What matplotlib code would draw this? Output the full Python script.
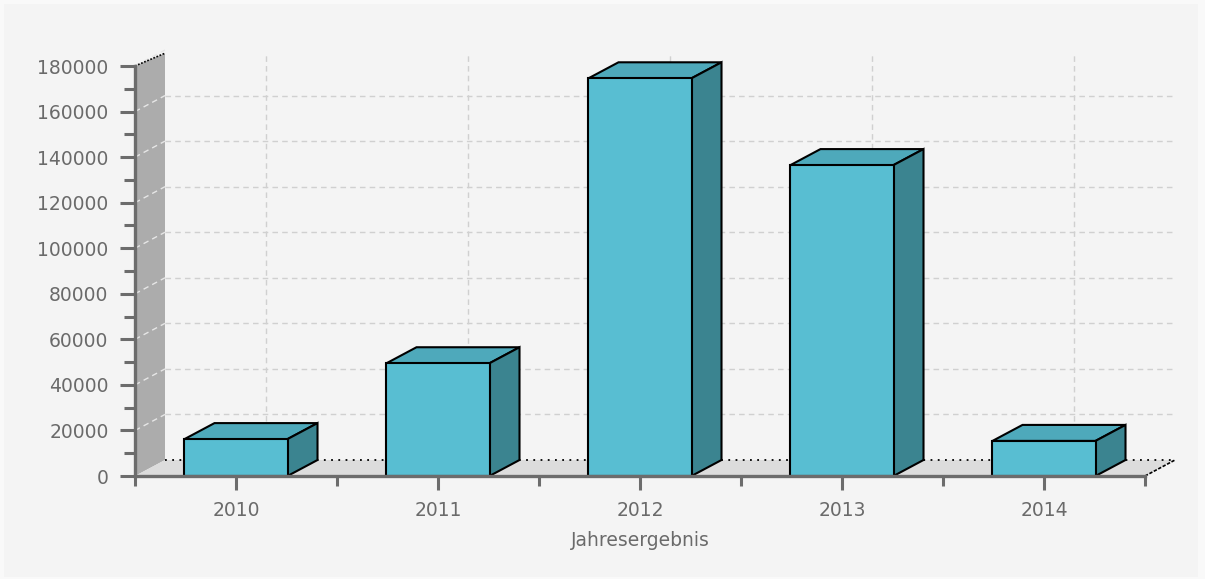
#!/usr/bin/env python3
"""Jahresergebnis 2010-2014 as pseudo 3D bars"""

import numpy as np
import matplotlib
matplotlib.use('Agg')
import matplotlib.pyplot as plt
from matplotlib.patches import Polygon, Rectangle

years = ['2010', '2011', '2012', '2013', '2014']
values = [16200, 49500, 174600, 136500, 15400]
y_ticks = list(range(0, 180001, 20000))

W, H = 1205, 579
DX, DY = 30, 16          # depth offset in pixels

FRONT = '#58bed2'
TOP = '#4ea9bb'
SIDE = '#3b8490'
WALL = '#acacac'
FLOOR = '#dcdcdc'
AXIS = '#6c6c6c'
TEXT = '#6a6a6a'

fig = plt.figure(figsize=(W / 100, H / 100), dpi=100, facecolor='#f9f9f9')
fig.patches.append(Rectangle((4 / W, 2 / H), 1194 / W, 573 / H, transform=fig.transFigure,
                             facecolor='#f4f4f4', edgecolor='none', zorder=-10))

left, right, bottom, top = 135, 1145, 476, 66
ax = fig.add_axes([left / W, (H - bottom) / H, (right - left) / W, (bottom - top) / H])
ax.set_facecolor('none')
ax.set_xlim(-0.5, len(years) - 0.5)
ax.set_ylim(0, 180000)

# depth offset in data units
ddx = DX * (len(years)) / (right - left)
ddy = DY * 180000 / (bottom - top)
x0, x1 = -0.5, len(years) - 0.5

# left wall
ax.add_patch(Polygon([(x0, 0), (x0 + ddx, ddy), (x0 + ddx, 180000 + ddy * 0.8), (x0, 180000)],
                     closed=True, facecolor=WALL, edgecolor='none', clip_on=False, zorder=1))
ax.plot([x0, x0 + ddx], [180000, 180000 + ddy * 0.8], ls=(0, (1, 1)), color='black', lw=1.2,
        clip_on=False, zorder=2)
# floor
ax.add_patch(Polygon([(x0, 0), (x1, 0), (x1 + ddx, ddy), (x0 + ddx, ddy)],
                     closed=True, facecolor=FLOOR, edgecolor='none', clip_on=False, zorder=1))
ax.plot([x0 + ddx, x1 + ddx], [ddy, ddy], ls=(0, (1, 3)), color='black', lw=1.3,
        clip_on=False, zorder=2)
ax.plot([x1, x1 + ddx], [0, ddy], ls=(0, (2, 1)), color='black', lw=1.2, clip_on=False, zorder=2)

# grid on back plane and wall
for v in y_ticks[1:-1]:
    ax.plot([x0 + ddx, x1 + ddx], [v + ddy, v + ddy], ls=(0, (4, 3)), color='#d0d0d0', lw=1,
            clip_on=False, zorder=1.5)
for v in y_ticks[1:]:
    ax.plot([x0, x0 + ddx], [v, v + ddy], ls=(0, (4, 3)), color='#e6e6e6', lw=1,
            clip_on=False, zorder=1.5)
for i in range(len(years)):
    ax.plot([i + ddx, i + ddx], [ddy, 180000 + ddy * 0.7], ls=(0, (4, 3)), color='#d0d0d0', lw=1,
            clip_on=False, zorder=1.5)

# bars
half = 0.255
for i, v in enumerate(values):
    xl, xr = i - half, i + half
    ax.add_patch(Polygon([(xl, v), (xl + ddx, v + ddy), (xr + ddx, v + ddy), (xr, v)],
                         closed=True, facecolor=TOP, edgecolor='black', lw=1.5, clip_on=False, zorder=3))
    ax.add_patch(Polygon([(xr, 0), (xr + ddx, ddy), (xr + ddx, v + ddy), (xr, v)],
                         closed=True, facecolor=SIDE, edgecolor='black', lw=1.5, clip_on=False, zorder=3))
    ax.add_patch(Rectangle((xl, 0), xr - xl, v, facecolor=FRONT, edgecolor='black', lw=1.5,
                           clip_on=False, zorder=4))

# wall front edge
ax.plot([x0 + 0.004, x0 + 0.004], [0, 180000], color='black', lw=1.2, clip_on=False, zorder=5)

for s in ['top', 'right']:
    ax.spines[s].set_visible(False)
for s in ['left', 'bottom']:
    ax.spines[s].set_color(AXIS)
    ax.spines[s].set_linewidth(2.4)
    ax.spines[s].set_zorder(6)

ax.set_yticks(y_ticks)
ax.set_yticklabels([str(v) for v in y_ticks])
ax.set_yticks(range(10000, 180000, 20000), minor=True)
ax.set_xticks(range(len(years)))
ax.set_xticklabels(years)
ax.set_xticks(np.arange(-0.5, len(years)), minor=True)

ax.tick_params(axis='y', which='major', length=11, width=2.2, color=AXIS, pad=8,
               labelsize=13.5, labelcolor=TEXT)
ax.tick_params(axis='y', which='minor', length=8, width=2.2, color=AXIS)
ax.tick_params(axis='x', which='major', length=10, width=2.2, color=AXIS, pad=8,
               labelsize=13.5, labelcolor=TEXT)
ax.tick_params(axis='x', which='minor', length=7, width=2.2, color=AXIS)

ax.set_xlabel('Jahresergebnis', fontsize=13.5, color=TEXT, labelpad=8)

fig.savefig('out.png', dpi=100, facecolor=fig.get_facecolor())
